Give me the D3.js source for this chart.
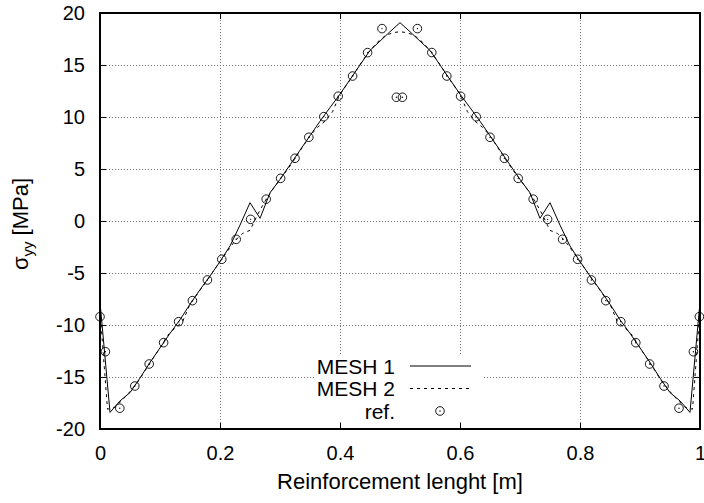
<!DOCTYPE html>
<html>
<head>
<meta charset="utf-8">
<script src="https://cdn.jsdelivr.net/npm/d3@7"></script>
<style>
  html, body { margin: 0; padding: 0; background: #fff; }
  svg { display: block; font-family: "Liberation Sans", Arial, sans-serif; }
</style>
</head>
<body>
<svg id="chart" width="704" height="503"></svg>
<script>
// Axis ticks
const xTicks = [0, 0.2, 0.4, 0.6, 0.8, 1];
const yTicks = [-20, -15, -10, -5, 0, 5, 10, 15, 20];

// MESH 1 nodal stresses
const mesh1X = [0, 0.0167, 0.0333, 0.05, 0.0667, 0.0833, 0.1, 0.1167, 0.1333, 0.15,
  0.1667, 0.1833, 0.2, 0.2167, 0.2333, 0.25, 0.2667, 0.2833, 0.3, 0.3167,
  0.3333, 0.35, 0.3667, 0.3833, 0.4, 0.4167, 0.4333, 0.45, 0.4667, 0.4833,
  0.5, 0.5167, 0.5333, 0.55, 0.5667, 0.5833, 0.6, 0.6167, 0.6333, 0.65,
  0.6667, 0.6833, 0.7, 0.7167, 0.7333, 0.75, 0.7667, 0.7833, 0.8, 0.8167,
  0.8333, 0.85, 0.8667, 0.8833, 0.9, 0.9167, 0.9333, 0.95, 0.9667, 0.9833, 1];
const mesh1Y = [-7.8, -18.4, -17.3, -16.5, -15.1, -13.6, -12.2, -10.8, -9.5, -8.0,
  -6.6, -5.3, -3.9, -2.4, -0.4, 1.76, 0.26, 2.7, 4.0, 5.4,
  6.8, 8.2, 9.6, 10.9, 12.2, 13.6, 15.0, 16.4, 17.3, 18.2,
  19.07, 18.2, 17.3, 16.4, 15.0, 13.6, 12.2, 10.9, 9.6, 8.2,
  6.8, 5.4, 4.0, 2.7, 0.26, 1.76, -0.4, -2.4, -3.9, -5.3,
  -6.6, -8.0, -9.5, -10.8, -12.2, -13.6, -15.1, -16.5, -17.3, -18.4, -7.8];

// MESH 2 nodal stresses
const mesh2X = [0, 0.0125, 0.025, 0.0375, 0.05, 0.0625, 0.075, 0.0875, 0.1, 0.1125,
  0.125, 0.1375, 0.15, 0.1625, 0.175, 0.1875, 0.2, 0.2125, 0.225, 0.2375,
  0.25, 0.2625, 0.275, 0.2875, 0.3, 0.3125, 0.325, 0.3375, 0.35, 0.3625,
  0.375, 0.3875, 0.4, 0.4125, 0.425, 0.4375, 0.45, 0.4625, 0.475, 0.4875,
  0.5, 0.5125, 0.525, 0.5375, 0.55, 0.5625, 0.575, 0.5875, 0.6, 0.6125,
  0.625, 0.6375, 0.65, 0.6625, 0.675, 0.6875, 0.7, 0.7125, 0.725, 0.7375,
  0.75, 0.7625, 0.775, 0.7875, 0.8, 0.8125, 0.825, 0.8375, 0.85, 0.8625,
  0.875, 0.8875, 0.9, 0.9125, 0.925, 0.9375, 0.95, 0.9625, 0.975, 0.9875, 1];
const mesh2Y = [-8.6, -18.1, -17.9, -17.2, -16.4, -15.5, -14.4, -13.3, -12.2, -11.0,
  -10.3, -9.7, -8.0, -7.0, -6.0, -4.95, -3.9, -2.9, -1.9, -1.2,
  -0.9, 0.6, 1.9, 3.0, 4.0, 4.95, 6.0, 7.1, 8.2, 9.0,
  9.6, 10.5, 12.2, 13.2, 14.3, 15.4, 16.4, 17.2, 17.8, 18.1,
  18.2, 18.1, 17.8, 17.2, 16.4, 15.4, 14.3, 13.2, 12.2, 10.5,
  9.6, 9.0, 8.2, 7.1, 6.0, 4.95, 4.0, 3.0, 1.9, 0.6,
  -0.9, -1.2, -1.9, -2.9, -3.9, -4.95, -6.0, -7.0, -8.0, -9.7,
  -10.3, -11.0, -12.2, -13.3, -14.4, -15.5, -16.4, -17.2, -17.9, -18.1, -8.6];

// Reference solution
const refX = [0, 0.009, 0.033, 0.058, 0.082, 0.106, 0.131, 0.154, 0.179, 0.203,
  0.227, 0.251, 0.277, 0.301, 0.325, 0.348, 0.373, 0.397, 0.421, 0.446,
  0.470, 0.494, 0.504, 0.529, 0.553, 0.578, 0.601, 0.627, 0.650, 0.674,
  0.697, 0.722, 0.746, 0.771, 0.796, 0.819, 0.843, 0.868, 0.893, 0.916,
  0.940, 0.965, 0.989, 0.999];
const refY = [-9.2, -12.57, -18.0, -15.87, -13.75, -11.7, -9.68, -7.66, -5.67, -3.68,
  -1.76, 0.16, 2.1, 4.1, 6.03, 8.05, 10.03, 12.0, 13.94, 16.19,
  18.5, 11.9, 11.9, 18.5, 16.2, 13.94, 12.0, 10.03, 8.05, 6.03,
  4.1, 2.1, 0.16, -1.76, -3.68, -5.67, -7.66, -9.68, -11.7, -13.75,
  -15.87, -18.0, -12.57, -9.2];

const seriesNames = ["MESH 1", "MESH 2", "ref."];

const svg = d3.select("#chart");
const mLeft = 100, mRight = 700, mTop = 13, mBottom = 429;
const x = d3.scaleLinear().domain([0, 1]).range([mLeft, mRight]);
const y = d3.scaleLinear().domain([-20, 20]).range([mBottom, mTop]);
const W = mRight - mLeft, H = mBottom - mTop;

const fmt = d => String(d);

// Grid lines (dotted)
const grid = svg.append("g").attr("class", "grid");
grid.append("g").attr("transform", `translate(0,${mBottom})`)
  .call(d3.axisBottom(x).tickValues(xTicks.slice(1, -1)).tickSize(-H).tickFormat(""));
grid.append("g").attr("transform", `translate(${mLeft},0)`)
  .call(d3.axisLeft(y).tickValues(yTicks.slice(1, -1)).tickSize(-W).tickFormat(""));
grid.selectAll(".domain").remove();
grid.selectAll("line").attr("stroke", "#777").attr("stroke-width", 1)
  .attr("stroke-dasharray", "1,2").attr("shape-rendering", "crispEdges");

// Opaque key box
svg.append("rect").attr("x", 316).attr("y", 355).attr("width", 168).attr("height", 67)
  .attr("fill", "#fff");

// Inward ticks on all four sides
function styleAxis(g) {
  g.selectAll(".domain").remove();
  g.selectAll("line").attr("stroke", "#000").attr("shape-rendering", "crispEdges");
  g.selectAll("text").attr("fill", "#000").style("font-size", "20px")
    .style("font-family", "'Liberation Sans', Arial, sans-serif");
}
const xb = svg.append("g").attr("transform", `translate(0,${mBottom})`)
  .call(d3.axisBottom(x).tickValues(xTicks).tickSizeInner(-6).tickSizeOuter(0)
    .tickPadding(17).tickFormat(fmt));
styleAxis(xb);
const xt = svg.append("g").attr("transform", `translate(0,${mTop})`)
  .call(d3.axisTop(x).tickValues(xTicks).tickSizeInner(-6).tickSizeOuter(0).tickFormat(""));
styleAxis(xt);
const yl = svg.append("g").attr("transform", `translate(${mLeft},0)`)
  .call(d3.axisLeft(y).tickValues(yTicks).tickSizeInner(-6).tickSizeOuter(0)
    .tickPadding(15).tickFormat(fmt));
styleAxis(yl);
const yr = svg.append("g").attr("transform", `translate(${mRight},0)`)
  .call(d3.axisRight(y).tickValues(yTicks).tickSizeInner(-6).tickSizeOuter(0).tickFormat(""));
styleAxis(yr);

// Frame
svg.append("rect").attr("x", mLeft).attr("y", mTop).attr("width", W).attr("height", H)
  .attr("fill", "none").attr("stroke", "#000").attr("stroke-width", 1.2)
  .attr("shape-rendering", "crispEdges");

// Axis titles
svg.append("text").attr("x", (mLeft + mRight) / 2).attr("y", 489)
  .attr("text-anchor", "middle").style("font-size", "22px").text("Reinforcement lenght [m]");
const yt = svg.append("text").attr("transform", `translate(28,${(mTop + mBottom) / 2 + 3}) rotate(-90)`)
  .attr("text-anchor", "middle").style("font-size", "22px");
yt.append("tspan").text("σ");
yt.append("tspan").attr("dy", 5).style("font-size", "15px").text("yy");
yt.append("tspan").attr("dy", -5).text(" [MPa]");

// Curves
const line = d3.line().x(d => x(d[0])).y(d => y(d[1]));
const m1 = mesh1X.map((v, i) => [v, mesh1Y[i]]);
const m2 = mesh2X.map((v, i) => [v, mesh2Y[i]]);
svg.append("path").datum(m1).attr("d", line).attr("fill", "none")
  .attr("stroke", "#000").attr("stroke-width", 1);
svg.append("path").datum(m2).attr("d", line).attr("fill", "none")
  .attr("stroke", "#000").attr("stroke-width", 1).attr("stroke-dasharray", "3,4");

function marker(g, cx, cy) {
  g.append("circle").attr("cx", cx).attr("cy", cy).attr("r", 4.3)
    .attr("fill", "none").attr("stroke", "#000").attr("stroke-width", 0.9);
  g.append("circle").attr("cx", cx).attr("cy", cy).attr("r", 0.7).attr("fill", "#000");
}
const pts = svg.append("g");
refX.forEach((v, i) => marker(pts, x(v), y(refY[i])));

// Key
const key = svg.append("g").style("font-size", "21px");
const rows = [366, 388.5, 411];
seriesNames.forEach((name, i) => {
  key.append("text").attr("x", 395).attr("y", rows[i] + 7.5).attr("text-anchor", "end").text(name);
});
key.append("line").attr("x1", 410).attr("x2", 471).attr("y1", rows[0]).attr("y2", rows[0])
  .attr("stroke", "#000").attr("stroke-width", 1);
key.append("line").attr("x1", 410).attr("x2", 471).attr("y1", rows[1]).attr("y2", rows[1])
  .attr("stroke", "#000").attr("stroke-width", 1).attr("stroke-dasharray", "3,4");
marker(key, 440, rows[2]);
</script>
</body>
</html>
